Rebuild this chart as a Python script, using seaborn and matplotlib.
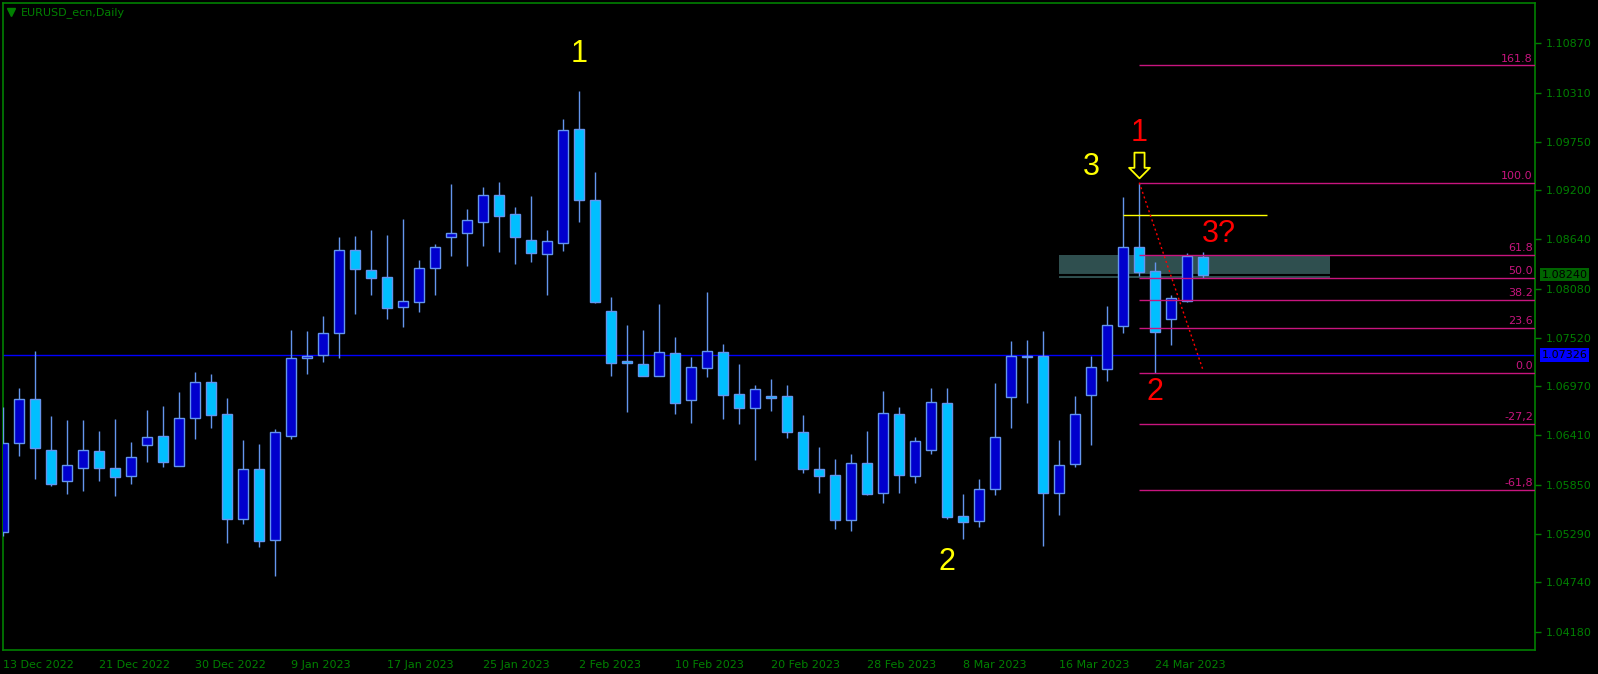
import numpy as np
import pandas as pd
import matplotlib
matplotlib.use('Agg')
import matplotlib.pyplot as plt
from matplotlib.path import Path
from matplotlib.patches import Rectangle
import seaborn as sns

# daily EURUSD candles, 13 Dec 2022 .. 29 Mar 2023
opens = [1.05309, 1.06321, 1.06822, 1.06242, 1.05889, 1.06037, 1.06230, 1.06037, 1.05946, 1.06299,
         1.06401, 1.06060, 1.06606, 1.07015, 1.06651, 1.05465, 1.06026, 1.05221, 1.06402, 1.07286,
         1.07331, 1.07574, 1.08517, 1.08290, 1.08210, 1.07877, 1.07934, 1.08310, 1.08673, 1.08718,
         1.08843, 1.09143, 1.08927, 1.08631, 1.08472, 1.08604, 1.09893, 1.09086, 1.07828, 1.07259,
         1.07221, 1.07092, 1.07346, 1.06808, 1.07183, 1.07357, 1.06880, 1.06717, 1.06861, 1.06861,
         1.06447, 1.06026, 1.05958, 1.05446, 1.06094, 1.05753, 1.06652, 1.05954, 1.06250, 1.06777,
         1.05492, 1.05435, 1.05799, 1.06845, 1.07308, 1.07315, 1.05761, 1.06080, 1.06876, 1.07171,
         1.07660, 1.08551, 1.08282, 1.07740, 1.07944, 1.08437]
highs = [1.06735, 1.06951, 1.07371, 1.06632, 1.06587, 1.06587, 1.06462, 1.06598, 1.06337, 1.06700,
         1.06746, 1.06905, 1.07132, 1.07110, 1.06837, 1.06359, 1.06314, 1.06484, 1.07611, 1.07600,
         1.07771, 1.08669, 1.08680, 1.08748, 1.08692, 1.08874, 1.08407, 1.08589, 1.09272, 1.08987,
         1.09237, 1.09294, 1.09010, 1.09135, 1.08748, 1.10011, 1.10329, 1.09408, 1.07987, 1.07668,
         1.07611, 1.07907, 1.07532, 1.07304, 1.08044, 1.07452, 1.07225, 1.06986, 1.07054, 1.06986,
         1.06644, 1.06280, 1.06144, 1.06201, 1.06462, 1.06917, 1.06735, 1.06394, 1.06951, 1.06951,
         1.05746, 1.05916, 1.07008, 1.07485, 1.07497, 1.07599, 1.06360, 1.06860, 1.07315, 1.07884,
         1.09123, 1.09286, 1.08380, 1.08005, 1.08482, 1.08498]
lows = [1.05272, 1.06181, 1.05920, 1.05840, 1.05749, 1.05783, 1.05897, 1.05726, 1.05863, 1.06113,
        1.06056, 1.06060, 1.06374, 1.06500, 1.05192, 1.05408, 1.05146, 1.04814, 1.06365, 1.07115,
        1.07251, 1.07286, 1.07797, 1.08013, 1.07740, 1.07649, 1.07820, 1.08009, 1.08453, 1.08339,
        1.08567, 1.08498, 1.08362, 1.08385, 1.08009, 1.08510, 1.08839, 1.07922, 1.07088, 1.06679,
        1.07092, 1.07081, 1.06660, 1.06547, 1.07070, 1.06603, 1.06535, 1.06136, 1.06690, 1.06376,
        1.05988, 1.05761, 1.05352, 1.05329, 1.05734, 1.05647, 1.05761, 1.05875, 1.06204, 1.05458,
        1.05238, 1.05374, 1.05738, 1.06500, 1.06780, 1.05158, 1.05511, 1.06046, 1.06307, 1.07035,
        1.07577, 1.08225, 1.07126, 1.07444, 1.07929, 1.08206]
closes = [1.06321, 1.06822, 1.06265, 1.05855, 1.06071, 1.06242, 1.06037, 1.05935, 1.06162, 1.06390,
          1.06113, 1.06606, 1.07015, 1.06647, 1.05465, 1.06026, 1.05215, 1.06447, 1.07289, 1.07316,
          1.07574, 1.08517, 1.08309, 1.08207, 1.07865, 1.07937, 1.08313, 1.08551, 1.08711, 1.08858,
          1.09143, 1.08911, 1.08673, 1.08491, 1.08620, 1.09882, 1.09093, 1.07934, 1.07240, 1.07229,
          1.07092, 1.07357, 1.06774, 1.07187, 1.07369, 1.06876, 1.06728, 1.06937, 1.06842, 1.06444,
          1.06034, 1.05954, 1.05454, 1.06094, 1.05750, 1.06663, 1.05966, 1.06345, 1.06788, 1.05488,
          1.05431, 1.05799, 1.06390, 1.07311, 1.07315, 1.05761, 1.06072, 1.06652, 1.07186, 1.07664,
          1.08551, 1.08274, 1.07592, 1.07971, 1.08448, 1.08240]

date_labels = ['13 Dec 2022', '21 Dec 2022', '30 Dec 2022', '9 Jan 2023', '17 Jan 2023',
               '25 Jan 2023', '2 Feb 2023', '10 Feb 2023', '20 Feb 2023', '28 Feb 2023',
               '8 Mar 2023', '16 Mar 2023', '24 Mar 2023']
price_ticks = [1.10870, 1.10310, 1.09750, 1.09200, 1.08640, 1.08080, 1.07520,
               1.06970, 1.06410, 1.05850, 1.05290, 1.04740, 1.04180]

# fibonacci retracement (from 1.09286 down to 1.07126)
fib_high = 1.09286
fib_low = 1.07126
fib_levels = [161.8, 100.0, 61.8, 50.0, 38.2, 23.6, 0.0, -27.2, -61.8]
fib_texts = ['161.8', '100.0', '61.8', '50.0', '38.2', '23.6', '0.0', '-27,2', '-61,8']

hline_price = 1.07326
bid_price = 1.08240
resist_price = 1.08915
zone_top = 1.08463
zone_bottom = 1.08205

yellow_waves = [('1', 36, 1.10750), ('3', 68, 1.09461), ('2', 59, 1.04966)]
red_waves = [('1', 71, 1.09848), ('2', 72, 1.06908), ('3?', 76, 1.08699)]

df = pd.DataFrame({'open': opens, 'high': highs, 'low': lows, 'close': closes})
df['idx'] = np.arange(len(df))
df['up'] = df['close'] >= df['open']

sns.set_theme(style='dark')
plt.rcParams['font.family'] = ['DejaVu Sans']

GREEN = '#008000'
FIB = '#c8157f'
OUTLINE = '#6495ed'

fig = plt.figure(figsize=(15.98, 6.74), dpi=100, facecolor='black')
ax = fig.add_axes([2.5 / 1598, 24 / 674, 1532 / 1598, 647.5 / 674])
ax.set_facecolor('black')

# wicks + bodies
ax.vlines(df['idx'], df['low'], df['high'], color=OUTLINE, lw=1.0, zorder=3)
body_bottom = df[['open', 'close']].min(axis=1)
body_height = (df['close'] - df['open']).abs().clip(lower=0.00003)
fills = np.where(df['up'], '#0000cd', '#00bfff')
ax.bar(df['idx'], body_height, bottom=body_bottom, width=0.64, color=fills,
       edgecolor=OUTLINE, linewidth=1.0, zorder=4)

# horizontal line + zone
ax.axhline(hline_price, color='#0000ff', lw=1.0, zorder=2)
ax.add_patch(Rectangle((66, zone_bottom), 16.9, zone_top - zone_bottom,
                       facecolor='#2f4f4f', edgecolor='none', zorder=1))
ax.hlines(bid_price, 66, 82.9, color='black', lw=1.5, zorder=1.5)
ax.hlines(resist_price, 70, 79, color='#ffff00', lw=1.0, zorder=5)

# fibo
for lvl, txt in zip(fib_levels, fib_texts):
    p = fib_low + (fib_high - fib_low) * lvl / 100.0
    ax.hlines(p, 71, 96, color=FIB, lw=1.0, zorder=5)
    ax.text(95.6, p + 0.0002, txt, color=FIB, fontsize=8, ha='right', va='bottom', zorder=6)
ax.plot([71, 75], [fib_high, 1.07144], color='red', lw=1.0, ls=(0, (1.5, 2)), zorder=6)

# wave labels
for txt, x, y in yellow_waves:
    ax.text(x, y, txt, color='#ffff00', fontsize=22, ha='center', va='center',
            family='Liberation Sans', zorder=7)
for txt, x, y in red_waves:
    ax.text(x, y, txt, color='#ff0000', fontsize=22, ha='center', va='center',
            family='Liberation Sans', zorder=7)

# hollow down arrow
arrow = Path([(-5, 12.7), (5, 12.7), (5, -2.3), (10.3, -2.3), (0, -12.7),
              (-10.3, -2.3), (-5, -2.3), (-5, 12.7)],
             [Path.MOVETO] + [Path.LINETO] * 6 + [Path.CLOSEPOLY])
ax.plot([71], [1.09487], marker=arrow, markersize=18.5, markerfacecolor='black',
        markeredgecolor='#ffff00', markeredgewidth=1.3, ls='none', zorder=7)

ax.set_xlim(-0.05, 95.7)
ax.set_ylim(1.03970, 1.11335)

ax.set_xticks(np.arange(0, 6 * len(date_labels), 6))
ax.set_xticklabels(date_labels)
plt.setp(ax.get_xticklabels(), ha='left')
ax.yaxis.tick_right()
ax.set_yticks(price_ticks)
ax.set_yticklabels([f'{t:.5f}' for t in price_ticks])
ax.tick_params(axis='both', direction='out', length=4, width=1, color=GREEN,
               labelcolor=GREEN, labelsize=8)
ax.tick_params(axis='x', pad=3)
ax.tick_params(axis='y', pad=4)
ax.grid(False)
for s in ax.spines.values():
    s.set_color(GREEN)
    s.set_linewidth(1.2)
    s.set_visible(True)

# price tags on the scale
ax.text(1.0045, bid_price, '1.08240', transform=ax.get_yaxis_transform(), color='black',
        fontsize=8, va='center', ha='left', zorder=8,
        bbox=dict(boxstyle='square,pad=0.15', facecolor='#006400', edgecolor='none'))
ax.text(1.0045, hline_price, '1.07326', transform=ax.get_yaxis_transform(), color='black',
        fontsize=8, va='center', ha='left', zorder=8,
        bbox=dict(boxstyle='square,pad=0.15', facecolor='#0000ff', edgecolor='none'))

# title
ax.plot([0.0054], [0.9853], marker='v', markersize=6, color=GREEN, transform=ax.transAxes,
        clip_on=False)
ax.text(0.0123, 0.9842, 'EURUSD_ecn,Daily', color=GREEN, fontsize=8, ha='left', va='center',
        transform=ax.transAxes)

fig.savefig('out.png', dpi=100, facecolor='black')
